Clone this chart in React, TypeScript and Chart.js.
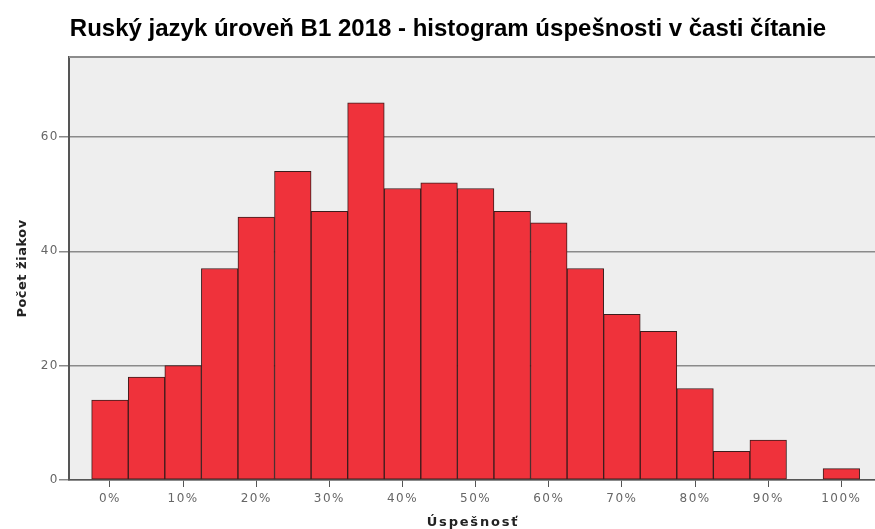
import React, { useEffect, useRef } from "react";
import { Chart, registerables } from "chart.js";

Chart.register(...registerables);

const titleText = "Ruský jazyk úroveň B1 2018 - histogram úspešnosti v časti čítanie";
const xTitle = "Úspešnosť";
const yTitle = "Počet žiakov";
const bins = [0, 5, 10, 15, 20, 25, 30, 35, 40, 45, 50, 55, 60, 65, 70, 75, 80, 85, 90, 95, 100];
const counts = [14, 18, 20, 37, 46, 54, 47, 66, 51, 52, 51, 47, 45, 37, 29, 26, 16, 5, 7, 0, 2];
const xTicks = [0, 10, 20, 30, 40, 50, 60, 70, 80, 90, 100];
const yTicks = [0, 20, 40, 60];

export default function App() {
  const ref = useRef<HTMLCanvasElement | null>(null);
  useEffect(() => {
    document.body.style.margin = "0";
    const canvas = ref.current!;
    const framePlugin = {
      id: "frame",
      beforeDraw(chart: any) {
        const { ctx, chartArea: a } = chart;
        ctx.fillStyle = "#eeeeee";
        ctx.fillRect(a.left, a.top, a.right - a.left, a.bottom - a.top);
        (ctx as any).letterSpacing = "1.5px";
      },
      afterDraw(chart: any) {
        const { ctx, chartArea: a } = chart;
        ctx.save();
        (ctx as any).letterSpacing = "0px";
        ctx.strokeStyle = "#8c8c8c";
        ctx.lineWidth = 2;
        ctx.beginPath();
        ctx.moveTo(a.left, a.top);
        ctx.lineTo(a.right, a.top);
        ctx.stroke();
        ctx.fillStyle = "#000";
        ctx.textAlign = "center";
        ctx.textBaseline = "alphabetic";
        ctx.font = "bold 24px 'Liberation Sans', Arial, sans-serif";
        ctx.fillText(titleText, 448, 36);
        (ctx as any).letterSpacing = "1.8px";
        ctx.font = "bold 13px 'DejaVu Sans', sans-serif";
        ctx.fillStyle = "#222";
        ctx.fillText(xTitle, (a.left + a.right) / 2 + 1, 526);
        (ctx as any).letterSpacing = "0.5px";
        ctx.translate(26, (a.top + a.bottom) / 2);
        ctx.rotate(-Math.PI / 2);
        ctx.font = "bold 13px 'DejaVu Sans', sans-serif";
        ctx.fillText(yTitle, 0, 0);
        ctx.restore();
        (ctx as any).letterSpacing = "0px";
      },
    };
    const chart = new Chart(canvas, {
      type: "bar",
      data: {
        datasets: [
          {
            data: bins.map((b, i) => ({ x: b, y: counts[i] })),
            backgroundColor: "#ef323b",
            borderColor: "#3c1c1c",
            borderWidth: 1,
            borderSkipped: false,
            barPercentage: 1,
            categoryPercentage: 1,
          },
        ],
      },
      options: {
        responsive: false,
        maintainAspectRatio: false,
        animation: false,
        devicePixelRatio: 1,
        layout: { padding: { top: 57, left: 0, right: 0, bottom: 0 } },
        plugins: { legend: { display: false }, tooltip: { enabled: false }, title: { display: false } },
        scales: {
          x: {
            type: "linear",
            offset: false,
            min: -5.6,
            max: 104.6,
            afterFit(scale: any) {
              scale.height = 49;
            },
            afterBuildTicks(scale: any) {
              scale.ticks = xTicks.map((v) => ({ value: v }));
            },
            grid: { offset: false, drawOnChartArea: false, drawTicks: true, tickLength: 7, color: "#555", lineWidth: 1 },
            border: { display: true, color: "#555", width: 1.5 },
            ticks: {
              padding: 5,
              color: "#666",
              font: { family: "'DejaVu Sans', sans-serif", size: 12 },
              callback: (v: any) => v + "%",
              maxRotation: 0,
              autoSkip: false,
            },
          },
          y: {
            min: 0,
            max: 74,
            afterFit(scale: any) {
              scale.width = 69;
            },
            afterBuildTicks(scale: any) {
              scale.ticks = yTicks.map((v) => ({ value: v }));
            },
            grid: { drawTicks: true, tickLength: 10, color: "#8a8a8a", lineWidth: 1.5 },
            border: { display: true, color: "#555", width: 2 },
            ticks: {
              padding: 0,
              color: "#666",
              font: { family: "'DejaVu Sans', sans-serif", size: 12 },
            },
          },
        },
      },
      plugins: [framePlugin],
    });
    return () => chart.destroy();
  }, []);
  return (
    <div style={{ width: 875, height: 529 }}>
      <canvas ref={ref} width={875} height={529} style={{ display: "block" }} />
    </div>
  );
}
